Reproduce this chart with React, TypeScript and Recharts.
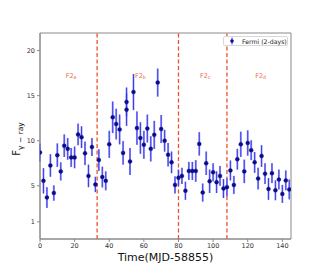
import React from "react";
import {
  ComposedChart,
  Scatter,
  XAxis,
  YAxis,
  ErrorBar,
  ReferenceLine,
  ReferenceDot,
  ReferenceArea,
  Label,
} from "recharts";

// Fermi 2-day binned light curve
const times = [
  0, 2, 4, 6, 8, 10, 12, 14, 16, 18, 20, 22, 24, 26, 28, 30, 32, 34, 36, 38,
  40, 42, 44, 46, 48, 50, 50, 52, 54, 56, 58, 60, 62, 64, 66, 68, 70, 72, 74,
  76, 78, 80, 82, 84, 86, 88, 90, 92, 94, 96, 98, 100, 102, 104, 106, 108,
  110, 112, 114, 116, 118, 120, 122, 124, 126, 128, 130, 132, 134, 136, 138,
  140, 142, 144,
];
const flux = [
  8.7, 5.55, 3.7, 7.25, 4.2, 8.4, 6.6, 9.45, 9.1, 8.15, 8.15, 10.7, 10.4, 8.6,
  6.1, 9.3, 5.15, 7.85, 5.97, 5.55, 9.6, 12.6, 11.85, 11.25, 8.65, 13.45, 14.3,
  7.7, 15.4, 11.4, 10.3, 9.55, 11.35, 9.1, 10.65, 16.45, 11.3, 10.0, 8.45, 7.6,
  5.1, 5.9, 6.1, 4.45, 6.65, 6.65, 6.65, 9.65, 4.25, 7.5, 5.5, 6.5, 5.4, 6.1,
  4.7, 4.85, 6.7, 5.1, 7.95, 9.6, 6.6, 9.75, 8.95, 7.6, 5.8, 8.3, 6.35, 4.65,
  6.4, 4.5, 5.7, 4.1, 5.6, 4.6,
];
const fluxErr = [
  1.0, 1.4, 1.15, 1.25, 0.85, 1.3, 1.0, 1.25, 1.2, 1.05, 1.2, 1.2, 1.2, 1.3,
  1.25, 1.0, 0.85, 1.2, 1.15, 1.05, 1.5, 1.75, 1.7, 1.65, 1.3, 1.8, 1.6, 1.5,
  2.0, 1.85, 1.75, 1.55, 1.55, 1.4, 1.55, 1.55, 1.55, 1.2, 1.3, 1.2, 0.95, 0.9,
  0.9, 1.0, 1.0, 1.0, 1.2, 1.3, 1.0, 1.3, 1.3, 1.0, 1.2, 1.1, 1.05, 1.0, 1.1,
  1.0, 1.15, 1.4, 1.3, 1.4, 1.1, 1.15, 1.2, 1.2, 1.15, 1.2, 1.1, 1.1, 1.1, 1.0,
  1.1, 1.1,
];

// flare period boundaries and labels
const flareBounds = [33, 80, 108];
const flareNames = ["a", "b", "c", "d"];
const flareLabelT = [18, 58, 95.5, 127.5];
const flareLabelFlux = 17.2;

const xTicks = [0, 20, 40, 60, 80, 100, 120, 140];
const yTicks = [1, 5, 10, 15, 20];

const data = times.map((t, i) => ({ t, flux: flux[i], err: fluxErr[i] }));

const FONT = "DejaVu Sans";
const AXIS = "#8a8a8a";

const FlareLabel = ({ cx, cy, name }: { cx?: number; cy?: number; name: string }) => (
  <text
    x={cx}
    y={cy}
    textAnchor="middle"
    dominantBaseline="central"
    fill="#f0683e"
    fontSize={6.5}
    fontFamily={FONT}
  >
    F2
    <tspan fontSize={4.8} dy={1.5}>
      {name}
    </tspan>
  </text>
);

export default function App() {
  return (
    <div style={{ position: "absolute", left: 0, top: 0, width: 324, height: 270, fontFamily: FONT }}>
      <ComposedChart
        width={324}
        height={270}
        data={data}
        margin={{ top: 33, right: 33, left: 0, bottom: 0 }}
      >
        <XAxis
          dataKey="t"
          type="number"
          domain={[0, 145]}
          ticks={xTicks}
          height={31}
          stroke={AXIS}
          tickSize={3}
          tickMargin={1}
          tick={{ fontSize: 6.5, fill: "#333", fontFamily: FONT }}
          allowDataOverflow
        >
          <Label
            content={() => (
              <text
                x={165.5}
                y={257}
                textAnchor="middle"
                dominantBaseline="central"
                fontSize={11}
                fill="#111"
                fontFamily={FONT}
              >
                Time(MJD-58855)
              </text>
            )}
          />
        </XAxis>
        <YAxis
          type="number"
          domain={[-0.9, 21.95]}
          ticks={yTicks}
          width={40}
          stroke={AXIS}
          tickSize={3}
          tickMargin={2}
          tick={{ fontSize: 6.5, fill: "#333", fontFamily: FONT }}
          allowDataOverflow
        >
          <Label
            content={() => (
              <text
                transform="translate(20,139) rotate(-90)"
                textAnchor="middle"
                fontSize={10}
                fill="#111"
                fontFamily={FONT}
              >
                F
                <tspan fontSize={7.5} dy={2.5}>
                  γ − ray
                </tspan>
              </text>
            )}
          />
        </YAxis>
        {/* frame */}
        <ReferenceArea x1={0} x2={145} y1={-0.9} y2={21.95} fill="none" stroke={AXIS} strokeWidth={1} />
        {flareBounds.map((b) => (
          <ReferenceLine
            key={b}
            x={b}
            stroke="#f0502a"
            strokeWidth={1.3}
            strokeDasharray="4 2.5"
          />
        ))}
        {flareNames.map((n, i) => (
          <ReferenceDot
            key={n}
            x={flareLabelT[i]}
            y={flareLabelFlux}
            r={0}
            shape={(p: any) => <FlareLabel cx={p.cx} cy={p.cy} name={n} />}
          />
        ))}
        <Scatter
          dataKey="flux"
          isAnimationActive={false}
          shape={(p: any) => (
            <circle cx={p.cx} cy={p.cy} r={2} fill="#0a0a96" stroke="#1a1a70" strokeWidth={0.4} />
          )}
        >
          <ErrorBar dataKey="err" direction="y" width={0} stroke="#a0a0f6" strokeWidth={2} />
          <ErrorBar dataKey="err" direction="y" width={0} stroke="#3030ee" strokeWidth={0.9} />
        </Scatter>
      </ComposedChart>
      {/* legend */}
      <div
        style={{
          position: "absolute",
          left: 223,
          top: 36,
          width: 65,
          height: 10,
          border: "1px solid #d8d8d8",
          borderRadius: 2,
          background: "#fff",
          boxSizing: "border-box",
          display: "flex",
          alignItems: "center",
          fontSize: 6.2,
          color: "#222",
          whiteSpace: "nowrap",
        }}
      >
        <svg width={15} height={8} style={{ flex: "none" }}>
          <line x1={8} y1={0.5} x2={8} y2={7.5} stroke="#3030ee" strokeWidth={1} />
          <circle cx={8} cy={4} r={1.8} fill="#0a0a96" />
        </svg>
        <span style={{ marginLeft: 3 }}>Fermi (2-days)</span>
      </div>
    </div>
  );
}
